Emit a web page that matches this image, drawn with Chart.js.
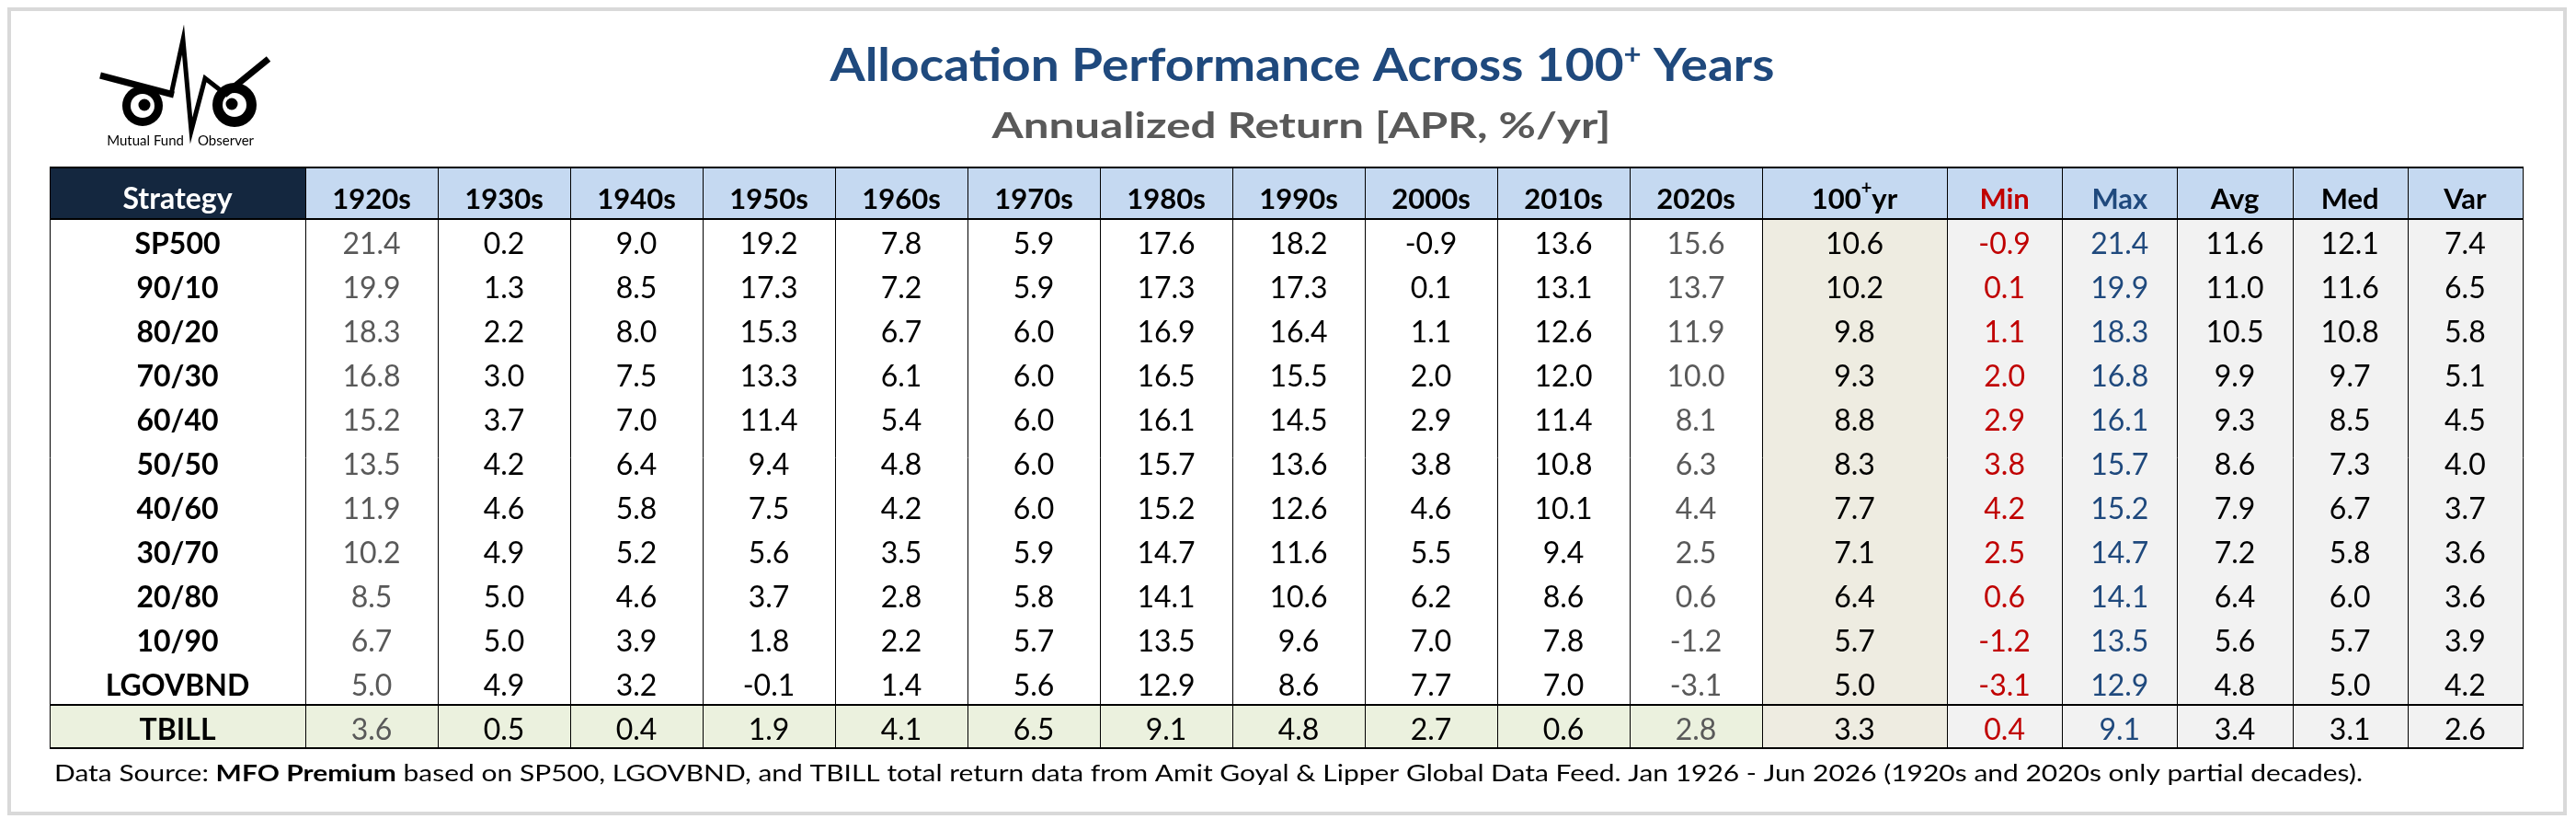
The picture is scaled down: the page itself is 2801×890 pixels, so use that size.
<!DOCTYPE html>
<html>
<head>
<meta charset="utf-8">
<script src="https://cdn.jsdelivr.net/npm/chart.js@4.4.1/dist/chart.umd.min.js"></script>
<style>
    html, body { margin: 0; padding: 0; background: #fff; }
    #wrap { width: 2801px; height: 890px; }
</style>
</head>
<body>
<div id="wrap"><canvas id="allocation" width="2801" height="890"></canvas></div>
<script>
// ---- data ----
const strategies = ["SP500", "90/10", "80/20", "70/30", "60/40", "50/50", "40/60", "30/70", "20/80", "10/90", "LGOVBND", "TBILL"];
const decades = ["1920s", "1930s", "1940s", "1950s", "1960s", "1970s", "1980s", "1990s", "2000s", "2010s", "2020s"];
const statNames = ["100+yr", "Min", "Max", "Avg", "Med", "Var"];

const sp500   = [21.4, 0.2, 9.0, 19.2, 7.8, 5.9, 17.6, 18.2, -0.9, 13.6, 15.6];
const mix9010 = [19.9, 1.3, 8.5, 17.3, 7.2, 5.9, 17.3, 17.3, 0.1, 13.1, 13.7];
const mix8020 = [18.3, 2.2, 8.0, 15.3, 6.7, 6.0, 16.9, 16.4, 1.1, 12.6, 11.9];
const mix7030 = [16.8, 3.0, 7.5, 13.3, 6.1, 6.0, 16.5, 15.5, 2.0, 12.0, 10.0];
const mix6040 = [15.2, 3.7, 7.0, 11.4, 5.4, 6.0, 16.1, 14.5, 2.9, 11.4, 8.1];
const mix5050 = [13.5, 4.2, 6.4, 9.4, 4.8, 6.0, 15.7, 13.6, 3.8, 10.8, 6.3];
const mix4060 = [11.9, 4.6, 5.8, 7.5, 4.2, 6.0, 15.2, 12.6, 4.6, 10.1, 4.4];
const mix3070 = [10.2, 4.9, 5.2, 5.6, 3.5, 5.9, 14.7, 11.6, 5.5, 9.4, 2.5];
const mix2080 = [8.5, 5.0, 4.6, 3.7, 2.8, 5.8, 14.1, 10.6, 6.2, 8.6, 0.6];
const mix1090 = [6.7, 5.0, 3.9, 1.8, 2.2, 5.7, 13.5, 9.6, 7.0, 7.8, -1.2];
const lgovbnd = [5.0, 4.9, 3.2, -0.1, 1.4, 5.6, 12.9, 8.6, 7.7, 7.0, -3.1];
const tbill   = [3.6, 0.5, 0.4, 1.9, 4.1, 6.5, 9.1, 4.8, 2.7, 0.6, 2.8];

const fullPeriod = [10.6, 10.2, 9.8, 9.3, 8.8, 8.3, 7.7, 7.1, 6.4, 5.7, 5.0, 3.3];
const minRet = [-0.9, 0.1, 1.1, 2.0, 2.9, 3.8, 4.2, 2.5, 0.6, -1.2, -3.1, 0.4];
const maxRet = [21.4, 19.9, 18.3, 16.8, 16.1, 15.7, 15.2, 14.7, 14.1, 13.5, 12.9, 9.1];
const avgRet = [11.6, 11.0, 10.5, 9.9, 9.3, 8.6, 7.9, 7.2, 6.4, 5.6, 4.8, 3.4];
const medRet = [12.1, 11.6, 10.8, 9.7, 8.5, 7.3, 6.7, 5.8, 6.0, 5.7, 5.0, 3.1];
const varRet = [7.4, 6.5, 5.8, 5.1, 4.5, 4.0, 3.7, 3.6, 3.6, 3.9, 4.2, 2.6];

const decadeRows = [sp500, mix9010, mix8020, mix7030, mix6040, mix5050, mix4060, mix3070, mix2080, mix1090, lgovbnd, tbill];

// ---- layout (table grid in pixel units of the chart area) ----
const colWidths = [278].concat(Array(11).fill(144), [201], Array(5).fill(125.2));
const rowHeights = [56].concat(Array(11).fill(48), [47]);
const colEdges = [0];
colWidths.forEach(w => colEdges.push(colEdges[colEdges.length - 1] + w));
const rowEdges = [0];
rowHeights.forEach(h => rowEdges.push(rowEdges[rowEdges.length - 1] + h));
const colMid = colWidths.map((w, i) => colEdges[i] + w / 2);
const rowMid = rowHeights.map((h, i) => rowEdges[i] + h / 2);

const FONT = "Lato, 'Open Sans', sans-serif";
const NAVY = "#14273F";
const HEAD_BLUE = "#C5D9F1";
const BEIGE = "#EEECE1";
const GREY_BG = "#F2F2F2";
const GREEN_BG = "#EBF1DE";
const TITLE_BLUE = "#1F497D";
const RED = "#C00000";
const PARTIAL = "#595959";

// column values: strategy names, 11 decades, then the summary columns
const columns = [strategies];
decades.forEach((d, c) => columns.push(decadeRows.map(r => r[c])));
columns.push(fullPeriod, minRet, maxRet, avgRet, medRet, varRet);
const headers = ["Strategy"].concat(decades, statNames);

const datasets = columns.map((vals, c) => ({
    label: headers[c],
    data: vals.map((v, i) => ({ x: colMid[c], y: rowMid[i + 1], v: v })),
    pointRadius: 0,
    pointHoverRadius: 0,
    showLine: false,
}));

function cellFill(r, c) {
    if (r === 0) return c === 0 ? NAVY : HEAD_BLUE;
    if (c === 12) return BEIGE;
    if (c > 12) return GREY_BG;
    return r === 12 ? GREEN_BG : "#FFFFFF";
}

function textColor(c) {
    if (c === 1 || c === 11) return PARTIAL;
    if (c === 13) return RED;
    if (c === 14) return TITLE_BLUE;
    return "#000000";
}

// draw a run of text pieces, optionally squeezed to a target width
function drawRun(ctx, parts, x, base, align, targetW) {
    let w = 0;
    parts.forEach(p => { ctx.font = p.font; p.w = ctx.measureText(p.t).width; w += p.w; });
    const s = targetW ? targetW / w : 1;
    const x0 = align === "center" ? x - (w * s) / 2 : x;
    ctx.save();
    ctx.translate(x0, base);
    ctx.scale(s, 1);
    ctx.textAlign = "left";
    ctx.textBaseline = "alphabetic";
    let cx = 0;
    parts.forEach(p => {
        ctx.font = p.font;
        ctx.fillStyle = p.color;
        ctx.fillText(p.t, cx, p.dy || 0);
        cx += p.w;
    });
    ctx.restore();
}

function drawLogo(ctx) {
    ctx.save();
    [[155, 115, 22, 157], [255, 114, 24, 252]].forEach(([ex, ey, r, px]) => {
        ctx.beginPath(); ctx.arc(ex, ey, r, 0, Math.PI * 2); ctx.fillStyle = "#000"; ctx.fill();
        ctx.beginPath(); ctx.arc(ex, ey, 13, 0, Math.PI * 2); ctx.fillStyle = "#fff"; ctx.fill();
        ctx.beginPath(); ctx.arc(px, ey - 1, 6.5, 0, Math.PI * 2); ctx.fillStyle = "#000"; ctx.fill();
    });
    ctx.strokeStyle = "#000";
    ctx.lineJoin = "miter";
    ctx.miterLimit = 30;
    ctx.lineWidth = 7;
    ctx.beginPath();
    ctx.moveTo(109, 82);
    ctx.lineTo(189, 103);
    ctx.stroke();
    ctx.lineWidth = 5;
    ctx.beginPath();
    ctx.moveTo(186, 103);
    ctx.lineTo(199, 43);
    ctx.lineTo(208, 142);
    ctx.lineTo(223, 85);
    ctx.lineTo(246, 103);
    ctx.stroke();
    ctx.lineWidth = 7;
    ctx.beginPath();
    ctx.moveTo(244, 103);
    ctx.lineTo(292, 64);
    ctx.stroke();
    ctx.fillStyle = "#000";
    ctx.font = "15px " + FONT;
    ctx.textBaseline = "alphabetic";
    ctx.textAlign = "right";
    ctx.fillText("Mutual Fund", 200, 158);
    ctx.textAlign = "left";
    ctx.fillText("Observer", 215, 158);
    ctx.restore();
}

const tablePlugin = {
    id: "tablePlugin",
    beforeDatasetsDraw(chart) {
        const { ctx, scales: { x, y } } = chart;
        ctx.save();
        for (let r = 0; r < rowHeights.length; r++) {
            for (let c = 0; c < colWidths.length; c++) {
                const x0 = x.getPixelForValue(colEdges[c]);
                const x1 = x.getPixelForValue(colEdges[c + 1]);
                const y0 = y.getPixelForValue(rowEdges[r]);
                const y1 = y.getPixelForValue(rowEdges[r + 1]);
                ctx.fillStyle = cellFill(r, c);
                ctx.fillRect(x0, y0, x1 - x0, y1 - y0);
            }
        }
        const top = y.getPixelForValue(0);
        const bottom = y.getPixelForValue(rowEdges[rowEdges.length - 1]);
        ctx.strokeStyle = "#000";
        ctx.lineWidth = 1;
        colEdges.forEach(e => {
            const px = Math.round(x.getPixelForValue(e)) + 0.5;
            ctx.beginPath(); ctx.moveTo(px, top); ctx.lineTo(px, bottom); ctx.stroke();
        });
        ctx.lineWidth = 2;
        const left = x.getPixelForValue(0);
        const right = x.getPixelForValue(colEdges[colEdges.length - 1]) + 1;
        [0, 1, 12, 13].forEach(r => {
            const py = Math.round(y.getPixelForValue(rowEdges[r]));
            ctx.beginPath(); ctx.moveTo(left, py); ctx.lineTo(right, py); ctx.stroke();
        });
        ctx.restore();
    },
    afterDatasetsDraw(chart) {
        const { ctx, scales: { x, y } } = chart;
        ctx.save();
        ctx.textAlign = "center";
        ctx.textBaseline = "alphabetic";
        // header row
        const hBase = y.getPixelForValue(rowMid[0]) + 17;
        headers.forEach((h, c) => {
            const hx = x.getPixelForValue(colMid[c]);
            const bold = "bold 31px " + FONT;
            if (h === "100+yr") {
                drawRun(ctx, [
                    { t: "100", font: bold, color: "#000" },
                    { t: "+", font: "bold 20px " + FONT, color: "#000", dy: -16 },
                    { t: "yr", font: bold, color: "#000" },
                ], hx, hBase, "center");
                return;
            }
            let col = "#000";
            if (c === 0) col = "#FFFFFF";
            if (c === 13) col = RED;
            if (c === 14) col = TITLE_BLUE;
            drawRun(ctx, [{ t: h, font: c === 0 ? "bold 32px " + FONT : bold, color: col }], hx, hBase, "center");
        });
        // body cells
        chart.data.datasets.forEach((ds, c) => {
            const meta = chart.getDatasetMeta(c);
            meta.data.forEach((pt, i) => {
                const v = ds.data[i].v;
                const txt = typeof v === "number" ? v.toFixed(1) : v;
                ctx.font = (c === 0 ? "bold 32px " : "32px ") + FONT;
                ctx.fillStyle = textColor(c);
                ctx.fillText(txt, pt.x, pt.y + 14);
            });
        });
        ctx.restore();
    },
    afterDraw(chart) {
        const ctx = chart.ctx;
        ctx.save();
        // frame
        ctx.strokeStyle = "#D9D9D9";
        ctx.lineWidth = 4;
        ctx.strokeRect(10, 10, 2779, 874);
        // titles
        drawRun(ctx, [
            { t: "Allocation Performance Across 100", font: "bold 50px " + FONT, color: TITLE_BLUE },
            { t: "+", font: "bold 30px " + FONT, color: TITLE_BLUE, dy: -18 },
            { t: " Years", font: "bold 50px " + FONT, color: TITLE_BLUE },
        ], 1416, 88, "center", 1027);
        drawRun(ctx, [
            { t: "Annualized Return [APR, %/yr]", font: "bold 39px " + FONT, color: PARTIAL },
        ], 1415, 150, "center", 673);
        // footer
        drawRun(ctx, [
            { t: "Data Source: ", font: "25px " + FONT, color: "#000" },
            { t: "MFO Premium", font: "bold 25px " + FONT, color: "#000" },
            { t: " based on SP500, LGOVBND, and TBILL total return data from Amit Goyal & Lipper Global Data Feed. Jan 1926 - Jun 2026 (1920s and 2020s only partial decades).", font: "25px " + FONT, color: "#000" },
        ], 59, 849, "left", 2510);
        drawLogo(ctx);
        ctx.restore();
    },
};

new Chart(document.getElementById("allocation").getContext("2d"), {
    type: "scatter",
    data: { datasets: datasets },
    options: {
        responsive: false,
        animation: false,
        devicePixelRatio: 1,
        events: [],
        layout: { padding: { left: 54, right: 58, top: 182, bottom: 77 } },
        plugins: { legend: { display: false }, tooltip: { enabled: false }, title: { display: false } },
        scales: {
            x: { type: "linear", display: false, min: 0, max: colEdges[colEdges.length - 1] },
            y: { type: "linear", display: false, reverse: true, min: 0, max: rowEdges[rowEdges.length - 1] },
        },
    },
    plugins: [tablePlugin],
});
</script>
</body>
</html>
